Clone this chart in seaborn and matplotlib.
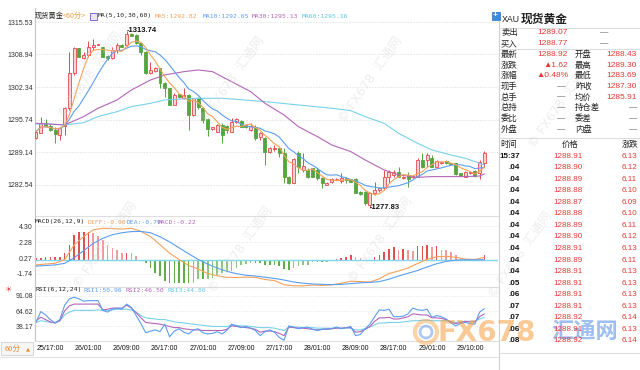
import numpy as np
import pandas as pd
import seaborn as sns
import matplotlib
matplotlib.use("Agg")
import matplotlib.pyplot as plt
from matplotlib.patches import Rectangle, Circle

# ---- hourly bars (first bar 25/14:00, last 29/15:00) ----
opens = [1291.94, 1293.09, 1295.12, 1294.44, 1293.63, 1292.62, 1294.44, 1298.03, 1305.12, 1310.19,
         1308.17, 1308.84, 1310.53, 1310.90, 1310.40, 1308.71, 1308.17, 1309.86, 1310.87, 1310.87,
         1313.10, 1312.90, 1311.34, 1309.52, 1305.12, 1305.60, 1306.14, 1303.10, 1302.08, 1298.70,
         1300.93, 1300.05, 1300.73, 1296.67, 1300.05, 1298.03, 1295.79, 1293.77, 1293.29, 1294.65,
         1294.44, 1293.29, 1295.32, 1295.46, 1294.65, 1293.63, 1294.31, 1292.14, 1291.94, 1289.24,
         1289.71, 1289.91, 1288.90, 1284.17, 1282.95, 1288.90, 1285.52, 1285.52, 1285.86, 1285.52,
         1283.83, 1282.48, 1283.15, 1283.60, 1283.29, 1283.83, 1283.63, 1283.63, 1281.13, 1281.13,
         1278.42, 1280.79, 1281.46, 1281.80, 1284.17, 1284.51, 1285.18, 1283.83, 1284.51, 1284.03,
         1284.17, 1287.55, 1287.55, 1287.89, 1286.20, 1286.87, 1287.35, 1286.90, 1286.87, 1284.84,
         1284.17, 1284.90, 1285.38, 1284.84, 1286.87]
highs = [1293.63, 1296.34, 1295.79, 1294.78, 1294.31, 1294.31, 1298.23, 1309.52, 1310.40, 1310.30,
         1309.52, 1311.75, 1312.09, 1311.10, 1310.50, 1308.80, 1310.53, 1311.21, 1311.00, 1313.74,
         1313.20, 1313.00, 1311.55, 1309.60, 1307.49, 1306.48, 1306.20, 1303.43, 1302.20, 1301.07,
         1301.00, 1302.08, 1300.93, 1300.20, 1300.26, 1298.23, 1296.00, 1294.30, 1294.80, 1294.98,
         1294.65, 1296.00, 1296.00, 1295.60, 1294.80, 1294.98, 1294.65, 1293.29, 1292.28, 1290.25,
         1290.59, 1290.25, 1289.91, 1284.30, 1287.89, 1289.30, 1288.90, 1285.86, 1286.00, 1285.86,
         1284.17, 1283.10, 1283.83, 1283.80, 1284.84, 1284.17, 1283.70, 1283.83, 1281.20, 1281.33,
         1281.13, 1283.15, 1282.14, 1285.52, 1285.52, 1285.52, 1286.20, 1284.30, 1285.18, 1284.40,
         1287.89, 1288.90, 1288.90, 1288.56, 1287.55, 1287.30, 1287.50, 1287.00, 1286.90, 1284.90,
         1285.30, 1285.10, 1285.52, 1287.55, 1289.30]
lows = [1291.74, 1292.96, 1294.31, 1293.50, 1290.93, 1291.60, 1292.62, 1297.70, 1304.79, 1308.40,
        1308.10, 1308.50, 1309.86, 1310.80, 1308.40, 1307.90, 1308.10, 1309.18, 1310.40, 1310.67,
        1312.60, 1311.10, 1308.84, 1305.00, 1304.99, 1305.46, 1302.08, 1300.39, 1298.60, 1298.60,
        1300.10, 1300.00, 1293.63, 1296.50, 1297.82, 1294.98, 1292.41, 1293.70, 1293.20, 1290.93,
        1292.96, 1293.20, 1294.98, 1294.20, 1294.00, 1293.43, 1291.60, 1291.60, 1286.53, 1289.03,
        1289.44, 1288.22, 1282.82, 1282.70, 1282.82, 1284.84, 1285.18, 1283.83, 1284.00, 1283.49,
        1281.80, 1282.40, 1282.82, 1283.50, 1282.82, 1282.82, 1283.00, 1280.79, 1280.50, 1278.42,
        1277.83, 1280.45, 1281.13, 1281.46, 1282.82, 1284.17, 1284.10, 1283.70, 1282.14, 1283.90,
        1284.03, 1285.86, 1286.20, 1286.06, 1286.06, 1286.80, 1286.80, 1286.70, 1284.51, 1284.20,
        1284.10, 1284.80, 1284.17, 1283.69, 1286.20]
closes = [1293.29, 1295.12, 1294.44, 1293.63, 1292.82, 1293.97, 1298.03, 1305.12, 1310.19, 1308.50,
          1308.84, 1310.53, 1310.87, 1311.00, 1308.50, 1308.17, 1309.86, 1310.87, 1310.53, 1313.10,
          1312.70, 1311.21, 1309.52, 1305.12, 1305.80, 1306.27, 1303.10, 1302.08, 1298.70, 1300.73,
          1300.26, 1300.73, 1296.67, 1300.05, 1298.23, 1295.66, 1293.77, 1294.17, 1294.65, 1292.62,
          1293.63, 1295.32, 1295.79, 1294.31, 1294.17, 1294.44, 1291.94, 1292.96, 1289.24, 1290.05,
          1290.05, 1288.90, 1284.17, 1282.82, 1287.68, 1286.20, 1286.40, 1284.17, 1284.17, 1283.83,
          1282.82, 1282.95, 1283.63, 1283.70, 1283.83, 1283.49, 1283.15, 1280.92, 1280.65, 1278.76,
          1280.79, 1281.46, 1281.80, 1284.17, 1285.18, 1285.18, 1284.17, 1284.17, 1283.63, 1284.30,
          1287.55, 1286.20, 1288.56, 1286.20, 1287.41, 1287.21, 1286.87, 1286.80, 1284.71, 1284.30,
          1285.18, 1285.00, 1284.30, 1287.21, 1288.92]

# MA30 / MA60 read at a few bars (history before the first bar is not visible)
ma30_bar = [1, 7, 11, 14, 18, 21, 25, 28, 32, 35, 38, 40, 42, 46, 49, 53, 56, 60, 63, 67,
            70, 74, 77, 81, 84, 88, 91, 94, 95]
ma30_val = [1294.98, 1294.65, 1296.34, 1298.03, 1299.72, 1301.74, 1303.77, 1304.79, 1305.46, 1305.80,
            1305.46, 1304.45, 1303.43, 1301.41, 1299.04, 1296.67, 1294.31, 1292.28, 1290.59, 1289.24,
            1287.55, 1285.52, 1284.51, 1284.03, 1284.17, 1284.17, 1284.17, 1284.30, 1284.71]
ma60_bar = [1, 4, 7, 11, 14, 18, 21, 25, 28, 32, 35, 40, 42, 49, 56, 63, 67, 70, 74, 77,
            81, 84, 88, 91, 94, 95]
ma60_val = [1294.84, 1294.84, 1294.65, 1295.12, 1296.34, 1297.35, 1298.36, 1299.04, 1299.72, 1299.92,
            1300.05, 1300.05, 1299.92, 1299.38, 1298.70, 1298.03, 1297.55, 1296.34, 1294.98, 1292.96,
            1290.93, 1289.58, 1288.56, 1287.89, 1286.87, 1286.53]

# MACD(26,12,9)
macd_hist = [0.30, 0.30, 0.38, 0.38, 0.42, 0.42, 0.92, 1.97, 3.23, 3.56,
             3.56, 3.56, 3.44, 3.02, 2.52, 1.97, 1.55, 1.26, 0.92, 0.92,
             0.84, 0.50, -0.05, -0.42, -0.96, -1.59, -2.01, -2.64, -2.85, -2.85,
             -2.93, -2.93, -2.93, -2.85, -2.43, -2.43, -2.35, -2.22, -1.93, -1.68,
             -1.51, -1.38, -0.96, -0.67, -0.46, -0.34, -0.34, -0.42, -0.55, -0.55,
             -0.55, -0.75, -1.17, -1.26, -0.96, -0.75, -0.67, -0.55, -0.25, -0.25,
             -0.25, -0.20, -0.05, 0.20, 0.29, 0.38, 0.59, 0.38, 0.29, 0.05,
             0.08, 0.38, 0.71, 1.05, 1.43, 1.68, 1.26, 1.43, 1.34, 1.13,
             1.76, 1.76, 1.89, 1.64, 1.76, 1.34, 1.26, 1.01, 0.71, 0.29,
             0.17, 0.17, 0.08, 0.08, 0.59]
macd_bar = list(range(1, 96, 2))
diff = [-0.60, -0.49, -0.39, 0.06, 1.92, 2.98, 3.82, 4.01, 3.98, 3.91,
        4.02, 3.62, 2.97, 1.95, 0.88, 0.08, -0.67, -1.12, -1.68, -1.97,
        -2.16, -2.18, -2.13, -2.17, -2.43, -2.58, -3.09, -3.23, -3.24, -3.13,
        -3.18, -3.11, -2.90, -2.65, -2.70, -2.76, -2.34, -1.68, -1.37, -0.98,
        -0.42, 0.10, 0.43, 0.48, 0.36, 0.14, 0.09, 0.35]
dea = [-0.75, -0.68, -0.60, -0.40, 0.30, 1.20, 2.10, 2.75, 3.20, 3.45,
       3.60, 3.62, 3.45, 2.95, 2.30, 1.55, 0.80, 0.10, -0.50, -1.00,
       -1.40, -1.70, -1.90, -2.00, -2.15, -2.30, -2.50, -2.75, -2.90, -3.00,
       -3.05, -3.08, -3.05, -2.95, -2.85, -2.80, -2.70, -2.40, -2.00, -1.65,
       -1.30, -0.85, -0.45, -0.15, 0.00, 0.05, 0.05, 0.05]

# RSI(6,12,24)
rsi1 = [45, 64, 58, 50, 44, 50, 75, 86, 89, 86, 82, 83, 83, 83, 66, 63, 68, 70, 68, 77,
        71, 57, 43, 27, 30, 32, 29, 42, 20, 30, 34, 28, 25, 32, 34, 27, 25, 26, 29, 25,
        31, 42, 39, 36, 38, 35, 31, 22, 29, 32, 28, 19, 14, 39, 37, 34, 36, 37, 33, 31,
        33, 34, 34, 37, 34, 36, 38, 22, 24, 34, 42, 55, 67, 66, 68, 55, 55, 56, 60, 70,
        67, 66, 68, 54, 57, 55, 51, 44, 39, 43, 45, 43, 42, 63, 69]
rsi2 = [48, 54, 50, 46, 44, 48, 65, 74, 77, 77, 77, 77, 77, 77, 67, 68, 70, 70, 70, 75,
        70, 62, 53, 45, 44, 43, 42, 40, 38, 36, 36, 34, 33, 32, 32, 31, 31, 31, 31, 31,
        33, 39, 38, 37, 36, 35, 33, 28, 30, 30, 29, 26, 22, 37, 36, 35, 35, 34, 33, 32,
        33, 33, 34, 35, 35, 36, 36, 28, 29, 33, 38, 47, 53, 53, 54, 51, 51, 53, 55, 60,
        59, 58, 58, 53, 53, 52, 50, 46, 43, 45, 47, 46, 46, 55, 60]
rsi3 = [45, 48, 47, 45, 45, 48, 58, 63, 66, 66, 66, 66, 66, 67, 66, 66, 67, 68, 68, 68,
        67, 63, 57, 53, 52, 51, 50, 50, 48, 46, 45, 44, 43, 42, 41, 40, 39, 38, 38, 38,
        38, 40, 40, 39, 39, 38, 37, 36, 36, 36, 35, 33, 31, 37, 37, 37, 36, 36, 36, 35,
        35, 35, 35, 36, 35, 35, 35, 32, 32, 34, 37, 41, 44, 44, 45, 45, 45, 46, 47, 48,
        48, 49, 49, 48, 48, 48, 48, 46, 45, 46, 47, 47, 47, 51, 54]

price_ticks = [1315.53, 1308.94, 1302.34, 1295.74, 1289.14, 1282.54]
macd_ticks = [4.30, 2.28, 0.27, -1.74]
rsi_ticks = [91.08, 64.62, 38.17]
time_bars = [4, 12, 20, 28, 36, 44, 52, 60, 68, 76, 84, 92]
time_labels = ['25/17:00', '26/01:00', '26/09:00', '26/17:00', '27/01:00', '27/09:00',
               '27/17:00', '28/01:00', '28/09:00', '28/17:00', '29/01:00', '29/10:00']

# quote panel
quote_left = [('卖出', '1289.07'), ('买入', '1288.77'), ('最新', '1288.92'), ('涨跌', '▲1.62'),
              ('涨幅', '▲0.48%'), ('现手', '—'), ('总手', '—'), ('总持', '—'), ('委比', '—'), ('外盘', '—')]
quote_right = [('', '—'), ('', '—'), ('开盘', '1288.43'), ('最高', '1289.30'), ('最低', '1283.69'),
               ('昨收', '1287.30'), ('均价', '1285.91'), ('持仓差', '—'), ('委差', '—'), ('内盘', '—')]
tick_time = ['15:37', '.04', '.04', '.04', '.04', '.04', '.04', '.04', '.04', '.04', '.04',
             '.05', '.06', '.07', '.07', '.06', '.08']
tick_price = ['1288.91', '1288.90', '1288.89', '1288.88', '1288.87', '1288.88', '1288.89', '1288.90',
              '1288.91', '1288.89', '1288.91', '1288.91', '1288.91', '1288.91', '1288.92', '1288.91', '1288.92']
tick_chg = ['6.13', '6.12', '6.11', '6.10', '6.09', '6.10', '6.11', '6.12', '6.13', '6.11', '6.13',
            '6.13', '6.13', '6.13', '6.14', '6.13', '6.14']

df = pd.DataFrame({'bar': np.arange(1, len(opens) + 1), 'open': opens, 'high': highs,
                   'low': lows, 'close': closes})
df['ma5'] = df['close'].rolling(5, min_periods=1).mean()
df['ma10'] = df['close'].rolling(10, min_periods=1).mean()

C_MA5, C_MA10, C_MA30, C_MA60 = '#f4a25a', '#5b9ef0', '#b565b8', '#78d2ea'
RED, RED_FILL, GREEN = '#e5484d', '#fbd3d3', '#55a43f'
UP_RED = '#e53935'

sns.set_theme(style="white")
plt.rcParams['font.family'] = ['Liberation Sans', 'Noto Sans CJK SC', 'DejaVu Sans']
plt.rcParams['axes.unicode_minus'] = False

W, H = 640, 370


def rect(x0, y0, x1, y1):
    return [x0 / W, 1 - y1 / H, (x1 - x0) / W, (y1 - y0) / H]


fig = plt.figure(figsize=(6.4, 3.7), dpi=100)
fig.patch.set_facecolor('white')
ax_k = fig.add_axes(rect(35, 8, 498, 216))
ax_m = fig.add_axes(rect(35, 216, 498, 287))
ax_r = fig.add_axes(rect(35, 287, 498, 341))
ov = fig.add_axes([0, 0, 1, 1], zorder=10)
ov.set_xlim(0, W)
ov.set_ylim(H, 0)
ov.axis('off')

for ax in (ax_k, ax_m, ax_r):
    ax.set_xlim(0.79, 97.86)
    ax.set_facecolor('none')
    for s in ax.spines.values():
        s.set_visible(False)
    ax.spines['left'].set_visible(True)
    ax.spines['left'].set_color('#c4c4c4')
    ax.spines['left'].set_linewidth(0.8)
    ax.spines['bottom'].set_visible(True)
    ax.spines['bottom'].set_color('#dedede')
    ax.spines['bottom'].set_linewidth(0.8)
    ax.tick_params(length=0, labelsize=5, colors='#333333', pad=1.5)
    ax.set_xticks([])

# ---- candles + moving averages ----
up = df['close'] >= df['open']
body_lo = df[['open', 'close']].min(axis=1)
body_h = (df['close'] - df['open']).abs().clip(lower=0.12)
edge = np.where(up, RED, GREEN)
fill = np.where(up, RED_FILL, GREEN)
ax_k.vlines(df['bar'], df['low'], df['high'], colors=edge, linewidth=0.7, zorder=2)
ax_k.bar(df['bar'], body_h, bottom=body_lo, width=0.62, color=fill, edgecolor=edge,
         linewidth=0.6, zorder=3)
sns.lineplot(x=ma60_bar, y=ma60_val, ax=ax_k, color=C_MA60, linewidth=0.8, zorder=4)
sns.lineplot(x=ma30_bar, y=ma30_val, ax=ax_k, color=C_MA30, linewidth=0.8, zorder=4)
sns.lineplot(data=df, x='bar', y='ma10', ax=ax_k, color=C_MA10, linewidth=0.8, zorder=4)
sns.lineplot(data=df, x='bar', y='ma5', ax=ax_k, color=C_MA5, linewidth=0.8, zorder=4)
for t in price_ticks:
    ax_k.axhline(t, color='#dadada', lw=0.5, ls=(0, (2, 2)), zorder=0)
ax_k.set_ylim(1276.18, 1318.37)
ax_k.set_yticks(price_ticks)
ax_k.set_yticklabels([f'{t:.2f}' for t in price_ticks])
ax_k.set_xlabel('')
ax_k.set_ylabel('')

hi_i = int(np.argmax(highs))
lo_i = int(np.argmin(lows))
ax_k.text(df['bar'][hi_i], highs[hi_i], f'-{highs[hi_i]:.2f}', fontsize=5.5, fontweight='bold',
          ha='left', va='center', color='#111111', zorder=6)
ax_k.text(df['bar'][lo_i], lows[lo_i], f'-{lows[lo_i]:.2f}', fontsize=5.5, fontweight='bold',
          ha='left', va='center', color='#111111', zorder=6)

# ---- MACD ----
h = np.array(macd_hist)
prev = np.r_[h[0], h[:-1]]
grow = np.abs(h) >= np.abs(prev)
hcol = np.where(h >= 0, np.where(grow, '#e24f4f', '#f09c9c'), np.where(grow, '#5fae48', '#8cc67c'))
ax_m.bar(df['bar'], h, width=0.34, color=hcol, linewidth=0, zorder=2)
ax_m.axhline(0, color='#7fd8ea', lw=1.0, zorder=3)
for t in macd_ticks:
    if t != 0.27:
        ax_m.axhline(t, color='#e2e2e2', lw=0.5, ls=(0, (2, 2)), zorder=0)
sns.lineplot(x=macd_bar, y=diff, ax=ax_m, color=C_MA5, linewidth=0.8, zorder=4)
sns.lineplot(x=macd_bar, y=dea, ax=ax_m, color=C_MA10, linewidth=0.8, zorder=4)
ax_m.set_ylim(-3.38, 5.56)
ax_m.set_yticks(macd_ticks)
ax_m.set_yticklabels([f'{t:.2f}' for t in macd_ticks])
ax_m.set_xlabel('')
ax_m.set_ylabel('')

# ---- RSI ----
for t in rsi_ticks:
    ax_r.axhline(t, color='#e2e2e2', lw=0.5, ls=(0, (2, 2)), zorder=0)
sns.lineplot(x=df['bar'], y=rsi3, ax=ax_r, color=C_MA60, linewidth=0.8)
sns.lineplot(x=df['bar'], y=rsi2, ax=ax_r, color=C_MA30, linewidth=0.8)
sns.lineplot(x=df['bar'], y=rsi1, ax=ax_r, color=C_MA10, linewidth=0.8)
ax_r.set_ylim(12.7, 106.75)
ax_r.set_yticks(rsi_ticks)
ax_r.set_yticklabels([f'{t:.2f}' for t in rsi_ticks])
ax_r.set_xticks(time_bars)
ax_r.set_xticklabels(time_labels, fontsize=5, color='#111111')
ax_r.tick_params(axis='x', pad=3)
ax_r.set_xlabel('')
ax_r.set_ylabel('')

# ---- header rows ----
MONO = ['DejaVu Sans Mono', 'Noto Sans CJK SC']
CJK = ['Noto Sans CJK SC', 'DejaVu Sans']
fs_h = 4.6
ov.text(35, 16, '现货黄金', fontsize=5.2, family=CJK, color='#222222', va='center')
ov.text(63, 16, '<60分>', fontsize=5.2, family=CJK, color='#f0a040', va='center')
ov.add_patch(Rectangle((90, 12.5), 6.5, 7, fc='#ece4fb', ec='#7256c8', lw=0.6))
ov.text(98, 16, 'MA(5,10,30,60)', fontsize=fs_h, family=MONO, color='#222222', va='center')
ov.text(155, 16, 'MA5:1292.82', fontsize=fs_h, family=MONO, color=C_MA5, va='center')
ov.text(203, 16, 'MA10:1292.65', fontsize=fs_h, family=MONO, color=C_MA10, va='center')
ov.text(252, 16, 'MA30:1295.13', fontsize=fs_h, family=MONO, color=C_MA30, va='center')
ov.text(302, 16, 'MA60:1295.16', fontsize=fs_h, family=MONO, color='#5cc6e4', va='center')

ov.text(35, 222, 'MACD(26,12,9)', fontsize=fs_h, family=MONO, color='#222222', va='center')
ov.text(88, 222, 'DIFF:-0.90', fontsize=fs_h, family=MONO, color=C_MA5, va='center')
ov.text(127, 222, 'DEA:-0.79', fontsize=fs_h, family=MONO, color=C_MA10, va='center')
ov.text(158, 222, 'MACD:-0.22', fontsize=fs_h, family=MONO, color=C_MA30, va='center')

ov.text(8, 289.5, '☀', fontsize=6, family=['DejaVu Sans'], color='#e04848', ha='center', va='center')
ov.text(35, 290, 'RSI(6,12,24)', fontsize=fs_h, family=MONO, color='#222222', va='center')
ov.text(83, 290, 'RSI1:50.96', fontsize=fs_h, family=MONO, color=C_MA10, va='center')
ov.text(125, 290, 'RSI2:46.50', fontsize=fs_h, family=MONO, color=C_MA30, va='center')
ov.text(167, 290, 'RSI3:44.86', fontsize=fs_h, family=MONO, color='#5cc6e4', va='center')

# period box bottom-left
ov.add_patch(Rectangle((1, 342), 32, 13, fc='#f6f6f6', ec='#cfcfcf', lw=0.6))
ov.text(5, 348.5, '60分', fontsize=5.5, family=CJK, color='#f08a30', va='center')
ov.text(28, 348.5, '▲', fontsize=3.8, family=['DejaVu Sans'], color='#f08a30', ha='center', va='center')
ov.plot([0, 499], [356.5, 356.5], color='#dddddd', lw=0.6)

# watermarks
for (wx, wy) in [(90, 75), (232, 80), (370, 80), (560, 105), (105, 245), (240, 250),
                 (380, 240), (520, 255)]:
    ov.text(wx, wy, '© FX678  汇通网', rotation=55, fontsize=9, family=['DejaVu Sans', 'Noto Sans CJK SC'],
            color='#d4d4d4', alpha=0.4, ha='center', va='center', zorder=0)
ov.add_patch(Circle((426, 332), 11, fill=False, ec='#f3a040', lw=3, alpha=0.45))
ov.add_patch(Circle((426, 332), 6, fill=False, ec='#4a86e0', lw=2, alpha=0.45))
ov.text(487, 333, 'FX678', fontsize=20, family=['DejaVu Sans'], fontweight='bold', color='#f5a040',
        alpha=0.55, ha='center', va='center')
ov.text(585, 332, '汇通网', fontsize=16, family=CJK, fontweight='bold', color='#3f7fe0',
        alpha=0.5, ha='center', va='center')

# ---- quote panel ----
LAT = ['Liberation Sans', 'DejaVu Sans']
ov.plot([499, 499], [21, 370], color='#cfcfcf', lw=0.8)
for yl in (27.5, 48.5, 137.5, 353):
    ov.plot([499, 640], [yl, yl], color='#d6d6d6', lw=0.6)
ov.add_patch(Rectangle((491.5, 11.5), 8, 8, fc='#3d8be0', ec='#2a6fc0', lw=0.5))
ov.text(495.5, 15.3, '+', fontsize=6, color='white', fontweight='bold', ha='center', va='center')
ov.text(502, 19.5, 'XAU', fontsize=6.3, family=LAT, color='#222222', va='center')
ov.text(521, 19, '现货黄金', fontsize=8.5, family=CJK, fontweight='bold', color='#222222', va='center')

for k, ((l1, v1), (l2, v2)) in enumerate(zip(quote_left, quote_right)):
    yy = 33 + k * 10.7
    ov.text(501, yy, l1, fontsize=6, family=CJK, color='#222222', va='center')
    c1 = '#555555' if v1 == '—' else UP_RED
    ov.text(568 if v1 != '—' else 565, yy, v1, fontsize=6, family=LAT, color=c1, ha='right', va='center')
    if l2:
        ov.text(575, yy, l2, fontsize=6, family=CJK, color='#222222', va='center')
        c2 = '#555555' if v2 == '—' else UP_RED
        ov.text(637, yy, v2, fontsize=6, family=LAT, color=c2, ha='right', va='center')
    else:
        ov.text(604, yy, v2, fontsize=6, family=LAT, color='#555555', ha='center', va='center')

ov.text(500, 144, '时间', fontsize=6, family=CJK, color='#222222', va='center')
ov.text(570, 144, '价格', fontsize=6, family=CJK, color='#222222', ha='center', va='center')
ov.text(638, 144, '涨跌', fontsize=6, family=CJK, color='#222222', ha='right', va='center')
for k, (tt, tp, tc) in enumerate(zip(tick_time, tick_price, tick_chg)):
    yy = 156 + k * 11.56
    ov.text(520, yy, tt, fontsize=5.8, family=LAT, fontweight='bold', color='#111111', ha='right', va='center')
    ov.text(583, yy, tp, fontsize=5.8, family=LAT, color=UP_RED, ha='right', va='center')
    ov.text(637, yy, tc, fontsize=5.8, family=LAT, color=UP_RED, ha='right', va='center')

fig.savefig('out.png', dpi=100, facecolor='white')
